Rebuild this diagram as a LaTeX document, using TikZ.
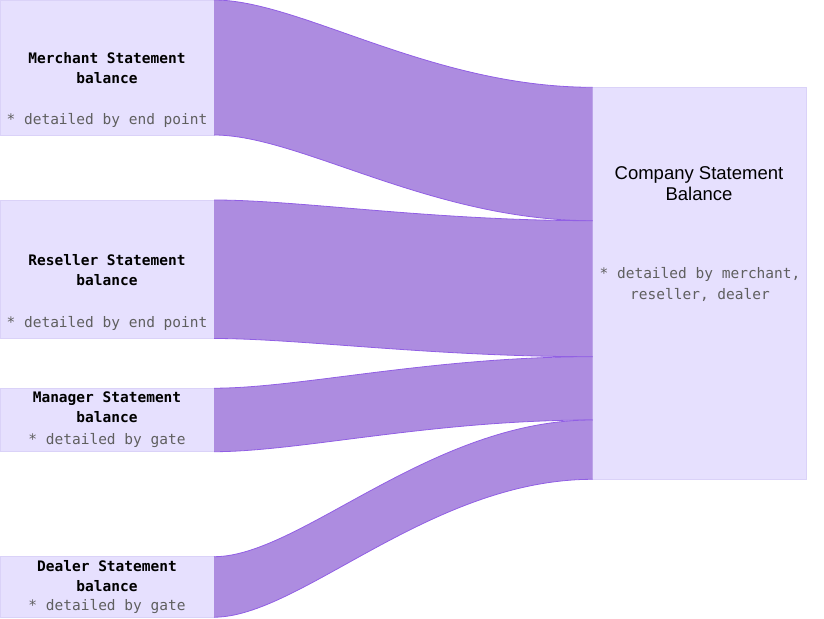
\documentclass[tikz,border=0pt]{standalone}
\usepackage{fontspec}
\setmainfont{Liberation Sans}
\newfontfamily\monofont{DejaVu Sans Mono}
\definecolor{boxfill}{RGB}{230,224,254}
\definecolor{boxline}{RGB}{218,210,248}
\definecolor{flowfill}{RGB}{173,140,224}
\definecolor{flowline}{RGB}{145,95,228}
\definecolor{notegray}{RGB}{95,95,95}
\tikzset{
  statebox/.style={draw=boxline, fill=boxfill, line width=0.8pt, inner sep=0pt, outer sep=0pt, anchor=north west},
  titletext/.style={font=\monofont\bfseries\fontsize{14.5}{20}\selectfont, align=center, inner sep=0pt, text=black},
  notetext/.style={font=\monofont\fontsize{14.5}{21}\selectfont, align=center, inner sep=0pt, text=notegray},
  bigtext/.style={font=\fontsize{18.5}{21}\selectfont, align=center, inner sep=0pt, text=black},
  bandfill/.style={fill=flowfill},
  bandedge/.style={draw=flowline, line width=0.8pt}
}
\newcommand\flowband[4]{%
  \fill[bandfill] (#1) .. controls +(86,0) and +(-162,0) .. (#2) -- (#3) .. controls +(-162,0) and +(86,0) .. (#4) -- cycle;
  \draw[bandedge] (#1) .. controls +(86,0) and +(-162,0) .. (#2);
  \draw[bandedge] (#4) .. controls +(86,0) and +(-162,0) .. (#3);
}
\begin{document}
\begin{tikzpicture}[x=1pt,y=-1pt]
\useasboundingbox (0,0) rectangle (824,618);
% boxes
\node[statebox, minimum width=214pt, minimum height=135pt] (m) at (0,0) {};
\node[statebox, minimum width=214pt, minimum height=138.5pt] (r) at (0,200) {};
\node[statebox, minimum width=214pt, minimum height=63.5pt] (g) at (0,388.2) {};
\node[statebox, minimum width=214pt, minimum height=60.5pt] (d) at (0,556.7) {};
\node[statebox, minimum width=213.5pt, minimum height=392pt] (c) at (592.5,87.3) {};
% flow end points on the company box
\coordinate (c1) at (c.north west);
\coordinate (c2) at (592.5,220.7);
\coordinate (c3) at (592.5,356.7);
\coordinate (c4) at (592.5,420);
\coordinate (c5) at (592.5,479.3);
% flows
\flowband{m.north east}{c1}{c2}{m.south east}
\flowband{r.north east}{c2}{c3}{r.south east}
\flowband{g.north east}{c3}{c4}{g.south east}
\flowband{d.north east}{c4}{c5}{d.south east}
% texts
\node[titletext] (mt) at (107,68) {Merchant Statement\\balance};
\node[notetext] (mn) at (107,120.5) {* detailed by end point};
\node[titletext] (rt) at (107,270) {Reseller Statement\\balance};
\node[notetext] (rn) at (107,323.5) {* detailed by end point};
\node[titletext] (gt) at (107,407) {Manager Statement\\balance};
\node[notetext] (gn) at (107,440.5) {* detailed by gate};
\node[titletext] (dt) at (107,576) {Dealer Statement\\balance};
\node[notetext] (dn) at (107,606.5) {* detailed by gate};
\node[bigtext] (ct) at (699,183.5) {Company Statement\\Balance};
\node[notetext] (cn) at (700,284) {* detailed by merchant,\\reseller, dealer};
\end{tikzpicture}
\end{document}
